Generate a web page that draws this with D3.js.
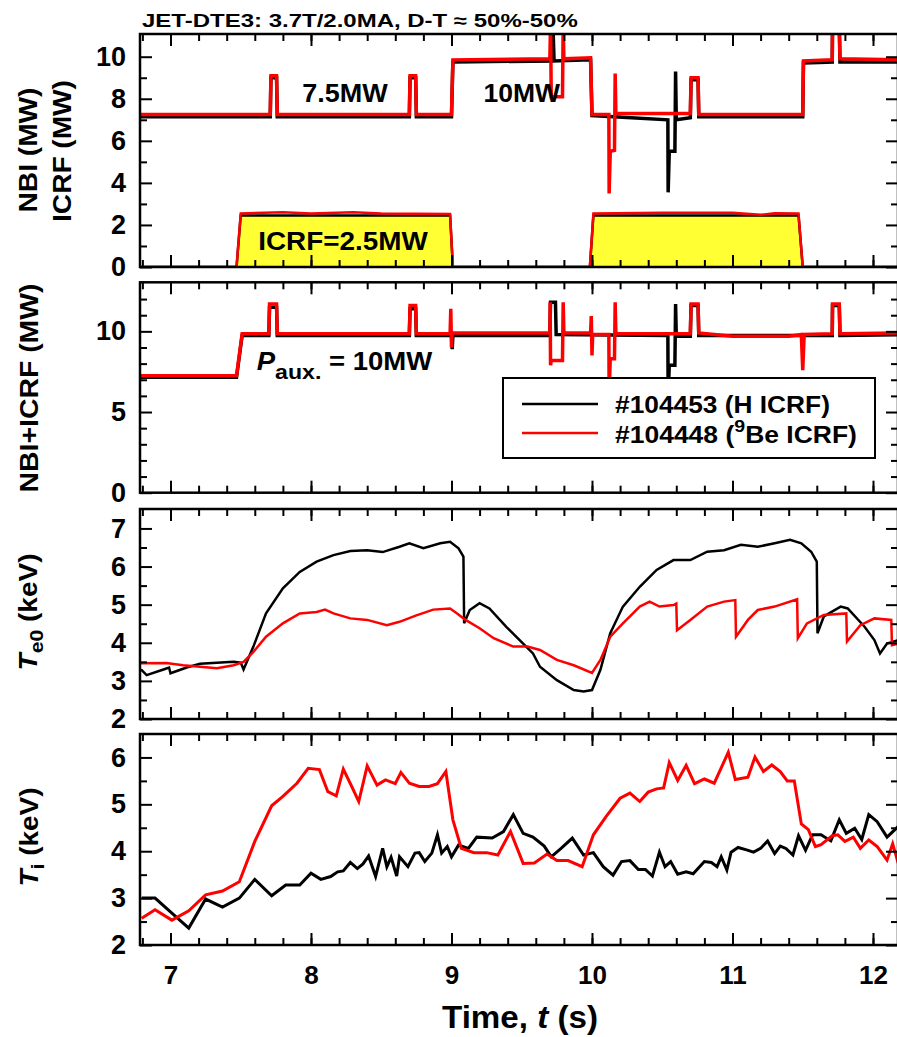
<!DOCTYPE html>
<html>
<head>
<meta charset="utf-8">
<script src="https://cdn.jsdelivr.net/npm/d3@7"></script>
<style>
  body { margin: 0; background: #fff; }
  svg { font-family: "Liberation Sans", Arial, sans-serif; font-weight: bold; }
</style>
</head>
<body>
<div id="chart"></div>
<script>
// ---- data (time in s) ----
var shots = ["#104453 (H ICRF)", "#104448 (Be ICRF)"];

// NBI power (MW)
var nbi_104453 = [[6.78,7.15],[7.71,7.15],[7.715,9.0],[7.755,9.0],[7.76,7.15],[8.70,7.15],[8.705,9.0],[8.745,9.0],[8.75,7.15],[9.0,7.15],[9.01,9.75],[9.72,9.8],[9.722,11.5],[9.73,9.8],[9.99,9.85],[10.0,7.2],[10.54,7.0],[10.542,3.55],[10.55,5.5],[10.59,5.5],[10.595,9.3],[10.6,7.0],[10.7,7.1],[10.705,8.9],[10.755,8.9],[10.76,7.15],[11.5,7.15],[11.505,9.7],[11.71,9.75],[11.712,11.5],[11.76,11.5],[11.765,9.75],[12.2,9.75]];
var nbi_104448 = [[6.78,7.25],[7.71,7.25],[7.715,9.1],[7.755,9.1],[7.76,7.25],[8.70,7.25],[8.705,9.1],[8.745,9.1],[8.75,7.25],[9.0,7.25],[9.01,9.85],[9.70,9.9],[9.705,11.5],[9.71,8.1],[9.79,8.1],[9.795,11.5],[9.80,9.9],[9.99,9.95],[10.0,7.25],[10.12,7.25],[10.122,3.5],[10.13,5.5],[10.16,5.55],[10.165,9.2],[10.17,7.3],[10.7,7.3],[10.705,9.0],[10.755,9.0],[10.76,7.25],[11.5,7.25],[11.505,9.8],[11.71,9.85],[11.712,11.5],[11.76,11.5],[11.765,9.9],[12.2,9.85]];

// ICRF power (MW)
var icrf_104453 = [[6.78,0],[7.47,0],[7.50,2.45],[8.0,2.45],[8.5,2.45],[8.99,2.45],[9.01,0],[9.985,0],[10.01,2.45],[10.5,2.45],[11.0,2.45],[11.47,2.45],[11.50,0],[12.2,0]];
var icrf_104448 = [[6.78,0],[7.47,0],[7.50,2.55],[7.8,2.6],[8.0,2.55],[8.3,2.6],[8.5,2.55],[8.99,2.52],[9.01,0],[9.985,0],[10.01,2.55],[10.5,2.58],[11.0,2.58],[11.2,2.48],[11.3,2.56],[11.47,2.55],[11.50,0],[12.2,0]];

// NBI+ICRF (MW)
var tot_104453 = [[6.78,7.15],[7.47,7.15],[7.51,9.75],[7.70,9.75],[7.705,11.5],[7.755,11.5],[7.76,9.75],[8.70,9.75],[8.705,11.4],[8.745,11.4],[8.75,9.75],[9.0,9.75],[9.005,8.9],[9.01,9.75],[9.70,9.75],[9.705,11.8],[9.74,11.8],[9.745,9.8],[10.54,9.75],[10.542,6.0],[10.55,7.9],[10.59,7.9],[10.595,11.7],[10.6,9.7],[10.7,9.7],[10.705,11.6],[10.755,11.6],[10.76,9.75],[11.71,9.75],[11.712,11.6],[11.76,11.6],[11.765,9.75],[12.2,9.8]];
var tot_104448 = [[6.78,7.25],[7.47,7.25],[7.51,9.85],[7.70,9.85],[7.705,11.7],[7.755,11.7],[7.76,9.85],[8.70,9.85],[8.705,11.6],[8.745,11.6],[8.75,9.85],[8.99,9.85],[8.995,11.4],[9.0,9.0],[9.005,9.9],[9.70,9.9],[9.702,11.8],[9.705,7.9],[9.71,8.2],[9.79,8.2],[9.795,11.8],[9.80,9.9],[9.99,9.9],[9.995,10.95],[10.0,8.5],[10.005,9.8],[10.12,9.8],[10.122,6.15],[10.13,8.3],[10.16,8.3],[10.165,11.8],[10.17,9.85],[10.7,9.85],[10.705,11.7],[10.755,11.7],[10.76,9.9],[11.0,9.7],[11.4,9.7],[11.49,9.8],[11.5,7.6],[11.51,9.8],[11.71,9.85],[11.712,11.7],[11.76,11.7],[11.765,9.85],[12.2,9.9]];

// central electron temperature Te0 (keV)
var te_104453 = [[6.79,3.3],[6.83,3.15],[6.95,3.3],[6.99,3.35],[7.0,3.2],[7.115,3.35],[7.21,3.45],[7.45,3.5],[7.5,3.48],[7.52,3.3],[7.59,3.9],[7.68,4.77],[7.80,5.43],[7.92,5.86],[8.04,6.13],[8.16,6.3],[8.28,6.41],[8.40,6.43],[8.51,6.38],[8.63,6.52],[8.70,6.61],[8.80,6.48],[8.92,6.61],[8.99,6.65],[9.05,6.48],[9.085,6.26],[9.09,4.51],[9.13,4.86],[9.2,5.04],[9.27,4.9],[9.39,4.42],[9.51,3.98],[9.58,3.72],[9.63,3.37],[9.75,3.02],[9.87,2.76],[9.94,2.72],[10.0,2.76],[10.06,3.29],[10.13,4.25],[10.22,4.95],[10.34,5.47],[10.46,5.91],[10.58,6.17],[10.70,6.17],[10.82,6.39],[10.94,6.43],[11.06,6.57],[11.18,6.52],[11.30,6.61],[11.41,6.7],[11.49,6.61],[11.56,6.39],[11.60,6.13],[11.605,4.25],[11.65,4.69],[11.77,4.95],[11.82,4.9],[11.94,4.42],[12.01,4.07],[12.05,3.72],[12.10,3.98],[12.18,4.07]];
var te_104448 = [[6.79,3.46],[6.97,3.47],[7.09,3.41],[7.21,3.37],[7.33,3.33],[7.45,3.41],[7.52,3.5],[7.59,3.76],[7.68,4.16],[7.80,4.51],[7.92,4.77],[8.04,4.81],[8.10,4.87],[8.16,4.77],[8.28,4.64],[8.40,4.6],[8.54,4.46],[8.63,4.55],[8.75,4.72],[8.87,4.87],[8.99,4.9],[9.04,4.77],[9.10,4.6],[9.2,4.38],[9.30,4.12],[9.44,3.9],[9.54,3.9],[9.63,3.81],[9.75,3.55],[9.87,3.41],[10.0,3.21],[10.06,3.55],[10.13,4.16],[10.22,4.51],[10.34,4.95],[10.41,5.08],[10.48,4.95],[10.58,4.99],[10.60,5.03],[10.605,4.33],[10.70,4.6],[10.82,4.95],[10.94,5.08],[11.02,5.12],[11.025,4.16],[11.11,4.6],[11.18,4.86],[11.30,4.95],[11.46,5.14],[11.465,4.12],[11.53,4.51],[11.65,4.73],[11.81,4.77],[11.815,4.03],[11.91,4.46],[12.01,4.64],[12.13,4.6],[12.135,3.94],[12.18,3.98]];

// ion temperature Ti (keV)
var ti_104453 = [[6.795,3.0],[6.89,3.0],[7.01,2.68],[7.13,2.36],[7.25,2.98],[7.37,2.81],[7.49,3.0],[7.60,3.4],[7.72,3.05],[7.82,3.28],[7.92,3.28],[8.0,3.53],[8.07,3.4],[8.14,3.46],[8.19,3.56],[8.23,3.58],[8.28,3.76],[8.33,3.63],[8.37,3.73],[8.41,3.9],[8.46,3.46],[8.51,4.06],[8.54,3.67],[8.57,3.87],[8.61,3.47],[8.63,3.88],[8.69,3.67],[8.74,3.96],[8.77,3.97],[8.81,3.78],[8.86,3.96],[8.90,4.35],[8.93,3.96],[8.97,4.1],[9.0,3.88],[9.05,4.13],[9.12,4.06],[9.18,4.3],[9.29,4.28],[9.37,4.42],[9.44,4.78],[9.51,4.38],[9.58,4.3],[9.66,4.11],[9.71,3.88],[9.78,4.06],[9.86,4.28],[9.94,3.92],[10.01,3.97],[10.08,3.67],[10.15,3.49],[10.21,3.78],[10.27,3.8],[10.33,3.61],[10.38,3.61],[10.43,3.47],[10.48,3.98],[10.52,3.67],[10.56,3.78],[10.61,3.51],[10.67,3.56],[10.72,3.52],[10.80,3.78],[10.85,3.76],[10.89,3.67],[10.92,3.88],[10.96,3.6],[10.99,3.98],[11.04,4.08],[11.10,4.03],[11.15,3.98],[11.20,4.06],[11.25,4.22],[11.30,3.95],[11.34,4.11],[11.38,4.06],[11.43,3.92],[11.47,4.33],[11.52,4.02],[11.57,4.35],[11.63,4.35],[11.70,4.22],[11.76,4.67],[11.81,4.38],[11.87,4.49],[11.92,4.25],[11.97,4.78],[12.03,4.63],[12.10,4.3],[12.18,4.53]];
var ti_104448 = [[6.795,2.57],[6.89,2.75],[7.01,2.53],[7.13,2.73],[7.25,3.07],[7.37,3.15],[7.49,3.35],[7.60,4.21],[7.72,4.97],[7.80,5.17],[7.90,5.45],[7.98,5.77],[8.06,5.74],[8.12,5.27],[8.18,5.18],[8.23,5.75],[8.29,5.38],[8.34,5.06],[8.40,5.82],[8.47,5.41],[8.53,5.52],[8.60,5.44],[8.64,5.68],[8.70,5.45],[8.77,5.38],[8.84,5.38],[8.90,5.44],[8.96,5.7],[9.01,4.67],[9.07,4.06],[9.16,3.97],[9.25,3.97],[9.33,3.92],[9.42,4.42],[9.51,3.74],[9.59,3.75],[9.68,3.94],[9.75,3.8],[9.83,3.8],[9.93,3.67],[10.01,4.35],[10.1,4.74],[10.20,5.13],[10.27,5.24],[10.34,5.06],[10.40,5.26],[10.46,5.33],[10.51,5.35],[10.55,5.89],[10.61,5.51],[10.67,5.83],[10.73,5.44],[10.80,5.54],[10.87,5.45],[10.97,6.11],[11.02,5.53],[11.11,5.58],[11.16,6.01],[11.22,5.7],[11.28,5.84],[11.34,5.7],[11.39,5.5],[11.44,5.5],[11.49,4.58],[11.54,4.46],[11.59,4.1],[11.63,4.14],[11.71,4.33],[11.75,4.35],[11.80,4.21],[11.86,4.3],[11.91,4.06],[11.97,4.24],[12.03,4.1],[12.10,3.81],[12.14,4.16],[12.18,3.74]];

var xMajor = [7, 8, 9, 10, 11, 12];
var xMinor = d3.range(34, 61).map(function(i) { return i / 5; });

// ---- layout ----
var W = 897, H = 1037;
var left = 140, right = 898;
var svg = d3.select("#chart").append("svg").attr("width", W).attr("height", H);

var x = d3.scaleLinear().domain([6.783, 12.178]).range([left, right]);

var panels = [
  { id: "p1", top: 34, bottom: 267, domain: [0, 11.08], major: [0, 2, 4, 6, 8, 10], minor: [1, 3, 5, 7, 9] },
  { id: "p2", top: 282.3, bottom: 492.7, domain: [0, 13.04], major: [0, 5, 10], minor: [1, 2, 3, 4, 6, 7, 8, 9, 11, 12] },
  { id: "p3", top: 509, bottom: 719, domain: [2, 7.51], major: [2, 3, 4, 5, 6, 7], minor: [2.5, 3.5, 4.5, 5.5, 6.5] },
  { id: "p4", top: 734, bottom: 945, domain: [2, 6.5], major: [2, 3, 4, 5, 6], minor: [2.5, 3.5, 4.5, 5.5] }
];

panels.forEach(function(p, i) {
  p.y = d3.scaleLinear().domain(p.domain).range([p.bottom, p.top]);
  svg.append("clipPath").attr("id", "clip-" + p.id)
    .append("rect").attr("x", left).attr("y", p.top).attr("width", right - left).attr("height", p.bottom - p.top);
  p.g = svg.append("g").attr("clip-path", "url(#clip-" + p.id + ")");
});

function line(p) {
  return d3.line().x(function(d) { return x(d[0]); }).y(function(d) { return p.y(d[1]); });
}

// panel 1: ICRF fill + traces
var p1 = panels[0];
p1.g.append("path").datum(icrf_104453)
  .attr("d", d3.area().x(function(d) { return x(d[0]); }).y0(p1.y(0)).y1(function(d) { return p1.y(d[1]); }))
  .attr("fill", "#ffff33");
p1.g.append("path").datum(icrf_104453).attr("d", line(p1)).attr("fill", "none").attr("stroke", "#000").attr("stroke-width", 2.5);
p1.g.append("path").datum(icrf_104448).attr("d", line(p1)).attr("fill", "none").attr("stroke", "#f00").attr("stroke-width", 2.5);
p1.g.append("path").datum(nbi_104453).attr("d", line(p1)).attr("fill", "none").attr("stroke", "#000").attr("stroke-width", 3.5);
p1.g.append("path").datum(nbi_104448).attr("d", line(p1)).attr("fill", "none").attr("stroke", "#f00").attr("stroke-width", 3.5);

var p2 = panels[1];
p2.g.append("path").datum(tot_104453).attr("d", line(p2)).attr("fill", "none").attr("stroke", "#000").attr("stroke-width", 3.5);
p2.g.append("path").datum(tot_104448).attr("d", line(p2)).attr("fill", "none").attr("stroke", "#f00").attr("stroke-width", 3.5);

var p3 = panels[2];
p3.g.append("path").datum(te_104453).attr("d", line(p3)).attr("fill", "none").attr("stroke", "#000").attr("stroke-width", 2.5);
p3.g.append("path").datum(te_104448).attr("d", line(p3)).attr("fill", "none").attr("stroke", "#f00").attr("stroke-width", 2.5);

var p4 = panels[3];
p4.g.append("path").datum(ti_104453).attr("d", line(p4)).attr("fill", "none").attr("stroke", "#000").attr("stroke-width", 3);
p4.g.append("path").datum(ti_104448).attr("d", line(p4)).attr("fill", "none").attr("stroke", "#f00").attr("stroke-width", 3);

// axes + frames
function styleAxis(g) {
  g.select(".domain").remove();
  g.selectAll("line").attr("stroke", "#000").attr("stroke-width", 2);
  g.selectAll("text").attr("fill", "#000").style("font-size", "26px").style("font-weight", "bold")
    .style("font-family", "'Liberation Sans', Arial, sans-serif");
}

panels.forEach(function(p, i) {
  var last = i === panels.length - 1;
  svg.append("g").attr("transform", "translate(0," + p.bottom + ")")
    .call(d3.axisBottom(x).tickValues(xMajor).tickSize(-12).tickPadding(21).tickFormat(last ? d3.format("d") : ""))
    .call(styleAxis);
  svg.append("g").attr("transform", "translate(0," + p.bottom + ")")
    .call(d3.axisBottom(x).tickValues(xMinor).tickSize(-7).tickFormat(""))
    .call(styleAxis);
  svg.append("g").attr("transform", "translate(0," + p.top + ")")
    .call(d3.axisTop(x).tickValues(xMajor).tickSize(-12).tickFormat(""))
    .call(styleAxis);
  svg.append("g").attr("transform", "translate(0," + p.top + ")")
    .call(d3.axisTop(x).tickValues(xMinor).tickSize(-7).tickFormat(""))
    .call(styleAxis);
  svg.append("g").attr("transform", "translate(" + left + ",0)")
    .call(d3.axisLeft(p.y).tickValues(p.major).tickSize(-12).tickPadding(14).tickFormat(d3.format("d")))
    .call(styleAxis)
    .selectAll("text").style("font-size", "27px");
  svg.append("g").attr("transform", "translate(" + left + ",0)")
    .call(d3.axisLeft(p.y).tickValues(p.minor).tickSize(-7).tickFormat(""))
    .call(styleAxis);
  svg.append("g").attr("transform", "translate(" + right + ",0)")
    .call(d3.axisRight(p.y).tickValues(p.major).tickSize(-12).tickFormat(""))
    .call(styleAxis);
  svg.append("g").attr("transform", "translate(" + right + ",0)")
    .call(d3.axisRight(p.y).tickValues(p.minor).tickSize(-7).tickFormat(""))
    .call(styleAxis);
  svg.append("rect").attr("x", left).attr("y", p.top).attr("width", right - left).attr("height", p.bottom - p.top)
    .attr("fill", "none").attr("stroke", "#000").attr("stroke-width", 2.5);
});

// place a text at (px,py), rotated, stretched along its direction to a target length
function fit(t, px, py, rot, len) {
  var w = t.node().getBBox().width;
  t.attr("transform", "translate(" + px + "," + py + ") rotate(" + rot + ") scale(" + (len / w) + ",1)");
  return t;
}

function label(parts, size, anchor) {
  var t = svg.append("text").attr("x", 0).attr("y", 0).attr("text-anchor", anchor).style("font-size", size + "px");
  parts.forEach(function(s) {
    var ts = t.append("tspan").text(s.t);
    if (s.i) ts.style("font-style", "italic");
    if (s.sub) ts.attr("dy", s.sub).style("font-size", s.fs + "px");
    if (s.back) ts.attr("dy", s.back);
  });
  return t;
}

// y titles
fit(label([{ t: "NBI (MW)" }], 25, "middle"), 37, 150, -90, 125);
fit(label([{ t: "ICRF (MW)" }], 25, "middle"), 71, 151, -90, 142);
fit(label([{ t: "NBI+ICRF (MW)" }], 25, "middle"), 38, 388, -90, 209);
fit(label([{ t: "T", i: true }, { t: "e0", sub: 6, fs: 19 }, { t: " (keV)", back: -6 }], 25, "middle"), 37, 612, -90, 117);
fit(label([{ t: "T", i: true }, { t: "i", sub: 6, fs: 19 }, { t: " (keV)", back: -6 }], 25, "middle"), 38, 837, -90, 99);

// title and annotations
fit(label([{ t: "JET-DTE3: 3.7T/2.0MA, D-T \u2248 50%-50%" }], 18, "start"), 142, 27, 0, 436);
fit(label([{ t: "7.5MW" }], 25, "middle"), 345, 102, 0, 86);
fit(label([{ t: "10MW" }], 25, "middle"), 521.7, 102, 0, 77);
fit(label([{ t: "ICRF=2.5MW" }], 25, "middle"), 343, 250, 0, 170);
fit(label([{ t: "P", i: true }, { t: "aux.", sub: 9, fs: 21 }, { t: " = 10MW", back: -9 }], 25, "start"), 256.7, 370, 0, 176);

// legend
var lg = svg.append("g");
lg.append("rect").attr("x", 503).attr("y", 378).attr("width", 372).attr("height", 80)
  .attr("fill", "#fff").attr("stroke", "#000").attr("stroke-width", 2);
lg.append("line").attr("x1", 522).attr("x2", 598).attr("y1", 404).attr("y2", 404).attr("stroke", "#000").attr("stroke-width", 2.5);
lg.append("line").attr("x1", 522).attr("x2", 598).attr("y1", 433).attr("y2", 433).attr("stroke", "#f00").attr("stroke-width", 2.5);
fit(label([{ t: shots[0] }], 23, "start"), 615, 413, 0, 215);
fit(label([{ t: "#104448 (" }, { t: "9", sub: -11, fs: 17 }, { t: "Be ICRF)", back: 11 }], 23, "start"), 615, 443, 0, 242);

// x title
fit(label([{ t: "Time, " }, { t: "t", i: true }, { t: " (s)" }], 32, "middle"), 520, 1028, 0, 156);
</script>
</body>
</html>
